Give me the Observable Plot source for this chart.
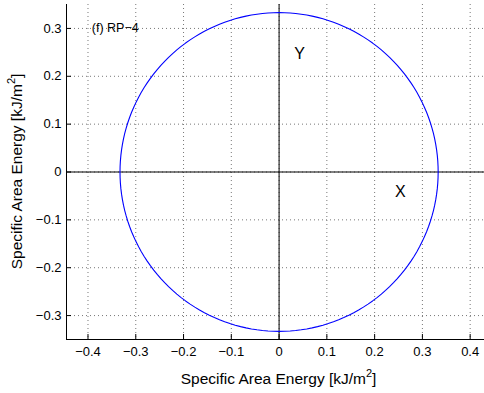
<!DOCTYPE html>
<html><head>
<meta charset="utf-8">
<script src="https://cdn.jsdelivr.net/npm/d3@7"></script>
<script src="https://cdn.jsdelivr.net/npm/@observablehq/plot@0.6"></script>
<style>body{margin:0;background:#fff}svg{display:block}</style>
</head><body><div id="chart"></div>
<script>
// Data
const xTicks = [-0.4, -0.3, -0.2, -0.1, 0, 0.1, 0.2, 0.3, 0.4];
const yTicks = [-0.3, -0.2, -0.1, 0, 0.1, 0.2, 0.3];
const anglesDeg = d3.range(0, 361, 2);      // polar sampling angles
const radii = anglesDeg.map(() => 0.333);   // specific area energy (constant)
const annotations = [
  {x: 0.043, y: 0.246, text: "Y"},
  {x: 0.254, y: -0.041, text: "X"}
];
const panelLabel = [{x: -0.392, y: 0.3, text: "(f) RP−4"}];
const axisLabel = "Specific Area Energy [kJ/m";

const curve = anglesDeg.map((a, i) => ({
  x: radii[i] * Math.cos(a * Math.PI / 180),
  y: radii[i] * Math.sin(a * Math.PI / 180)
}));

const W = 484, H = 393;
const mL = 66, mT = 4, mB = 54, mR = 0;
const pw = W - mL - mR, ph = H - mT - mB;
const fmt = d => d === 0 ? "0" : d3.format(".1f")(d).replace("-", "−");
const FONT = "'Liberation Sans', Arial, Helvetica, sans-serif";

const plot = Plot.plot({
  width: W, height: H,
  marginLeft: mL, marginTop: mT, marginBottom: mB, marginRight: mR,
  style: {fontFamily: FONT, fontSize: "13px", background: "#fff", color: "#000"},
  x: {domain: [-0.445, 0.43], ticks: xTicks, tickFormat: fmt, label: null},
  y: {domain: [-0.35, 0.35], ticks: yTicks, tickFormat: fmt, label: null},
  marks: [
    // dotted grid
    Plot.ruleX(xTicks, {stroke: "#777", strokeWidth: 1, strokeDasharray: "1,3"}),
    Plot.ruleY(yTicks, {stroke: "#777", strokeWidth: 1, strokeDasharray: "1,3"}),
    // cross-hair axes through origin
    Plot.ruleX([0], {stroke: "#000", strokeWidth: 1}),
    Plot.ruleY([0], {stroke: "#000", strokeWidth: 1}),
    // inward ticks
    Plot.ruleX(xTicks, {stroke: "#000", insetTop: ph - 5}),
    Plot.ruleY(yTicks, {stroke: "#000", insetRight: pw - 5}),
    // axis lines
    Plot.frame({anchor: "left", stroke: "#000"}),
    Plot.frame({anchor: "bottom", stroke: "#000"}),
    Plot.axisX({ticks: xTicks, tickFormat: fmt, tickSize: 0, tickPadding: 7, fontSize: 13, label: null}),
    Plot.axisY({ticks: yTicks, tickFormat: fmt, tickSize: 0, tickPadding: 5, fontSize: 13, label: null}),
    // polar curve
    Plot.line(curve, {x: "x", y: "y", stroke: "#0000ff", strokeWidth: 1.1}),
    // annotations
    Plot.text(annotations, {x: "x", y: "y", text: "text", fontSize: 16, fill: "#000"}),
    Plot.text(panelLabel, {x: "x", y: "y", text: "text", fontSize: 12.5, textAnchor: "start", fill: "#000"})
  ]
});

document.getElementById("chart").appendChild(plot);

// Axis titles with superscript
const svg = d3.select(plot);
const xl = svg.append("text")
  .attr("x", mL + (0 - (-0.445)) / 0.875 * pw)
  .attr("y", 384)
  .attr("text-anchor", "middle")
  .attr("font-family", FONT).attr("font-size", 15.5).attr("fill", "#000");
xl.append("tspan").text(axisLabel);
xl.append("tspan").attr("font-size", 11).attr("dy", -7).text("2");
xl.append("tspan").attr("dy", 7).text("]");

const yl = svg.append("text")
  .attr("transform", `translate(22,${mT + ph / 2}) rotate(-90)`)
  .attr("text-anchor", "middle")
  .attr("font-family", FONT).attr("font-size", 15.5).attr("fill", "#000");
yl.append("tspan").text(axisLabel);
yl.append("tspan").attr("font-size", 11).attr("dy", -7).text("2");
yl.append("tspan").attr("dy", 7).text("]");
</script>
</body></html>
